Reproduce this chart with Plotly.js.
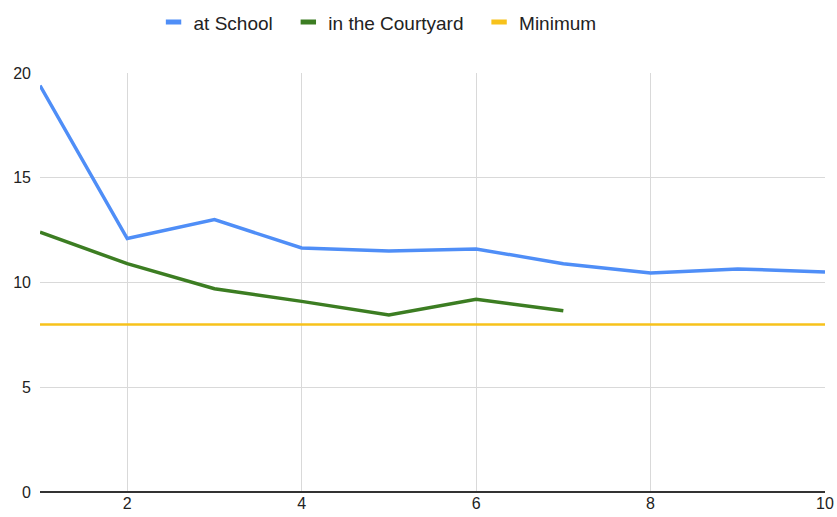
<!DOCTYPE html>
<html>
<head>
<meta charset="utf-8">
<script src="https://cdn.plot.ly/plotly-3.0.1.min.js"></script>
<style>html,body{margin:0;padding:0;background:#fff;}#chart{width:837px;height:517px;}</style>
</head>
<body>
<div id="chart"></div>
<script>
const xValues = [1, 2, 3, 4, 5, 6, 7, 8, 9, 10];
const atSchool = [19.4, 12.1, 13.0, 11.65, 11.5, 11.6, 10.9, 10.45, 10.65, 10.5];
const courtyardX = [1, 2, 3, 4, 5, 6, 7];
const inCourtyard = [12.4, 10.9, 9.7, 9.1, 8.45, 9.2, 8.65];
const minimum = [8, 8, 8, 8, 8, 8, 8, 8, 8, 8];
const xTicks = [2, 4, 6, 8, 10];
const yTicks = [0, 5, 10, 15, 20];
const seriesNames = ['at School', 'in the Courtyard', 'Minimum'];
const seriesColors = ['#4f8ef7', '#3c7d22', '#f7c21b'];

const traces = [
  {x: xValues, y: atSchool, name: seriesNames[0], mode: 'lines', showlegend: false, line: {color: seriesColors[0], width: 3.5}},
  {x: courtyardX, y: inCourtyard, name: seriesNames[1], mode: 'lines', showlegend: false, line: {color: seriesColors[1], width: 3.5}},
  {x: xValues, y: minimum, name: seriesNames[2], mode: 'lines', showlegend: false, line: {color: seriesColors[2], width: 2.5}}
];
seriesNames.forEach((n, i) => {
  traces.push({x: [null], y: [null], name: n + '\u00a0\u00a0', mode: 'markers', showlegend: true,
    marker: {symbol: 'line-ew', size: 11, color: seriesColors[i], line: {color: seriesColors[i], width: 6}}});
});

const layout = {
  width: 837, height: 517,
  margin: {l: 40, r: 12, t: 73, b: 25},
  paper_bgcolor: '#fff', plot_bgcolor: '#fff',
  font: {family: 'Liberation Sans, Arial, sans-serif', size: 16, color: '#222'},
  showlegend: true,
  legend: {orientation: 'h', x: 0.437, xanchor: 'center', y: 0.957, yref: 'container', yanchor: 'middle',
           font: {size: 19, color: '#222'}, itemwidth: 30, traceorder: 'normal'},
  xaxis: {range: [1, 10], tickvals: xTicks, ticktext: xTicks.map(String), showgrid: true,
          gridcolor: '#d9d9d9', gridwidth: 1, zeroline: false, showline: false, ticks: '',
          tickfont: {size: 16, color: '#222'}, fixedrange: true},
  yaxis: {range: [0, 20], tickvals: yTicks, ticktext: yTicks.map(String), showgrid: true,
          gridcolor: '#d9d9d9', gridwidth: 1, zeroline: true, zerolinecolor: '#333', zerolinewidth: 2,
          showline: false, ticks: '', ticklabelstandoff: 8, tickfont: {size: 16, color: '#222'}, fixedrange: true}
};

Plotly.newPlot('chart', traces, layout, {displayModeBar: false, staticPlot: true});
</script>
</body>
</html>
